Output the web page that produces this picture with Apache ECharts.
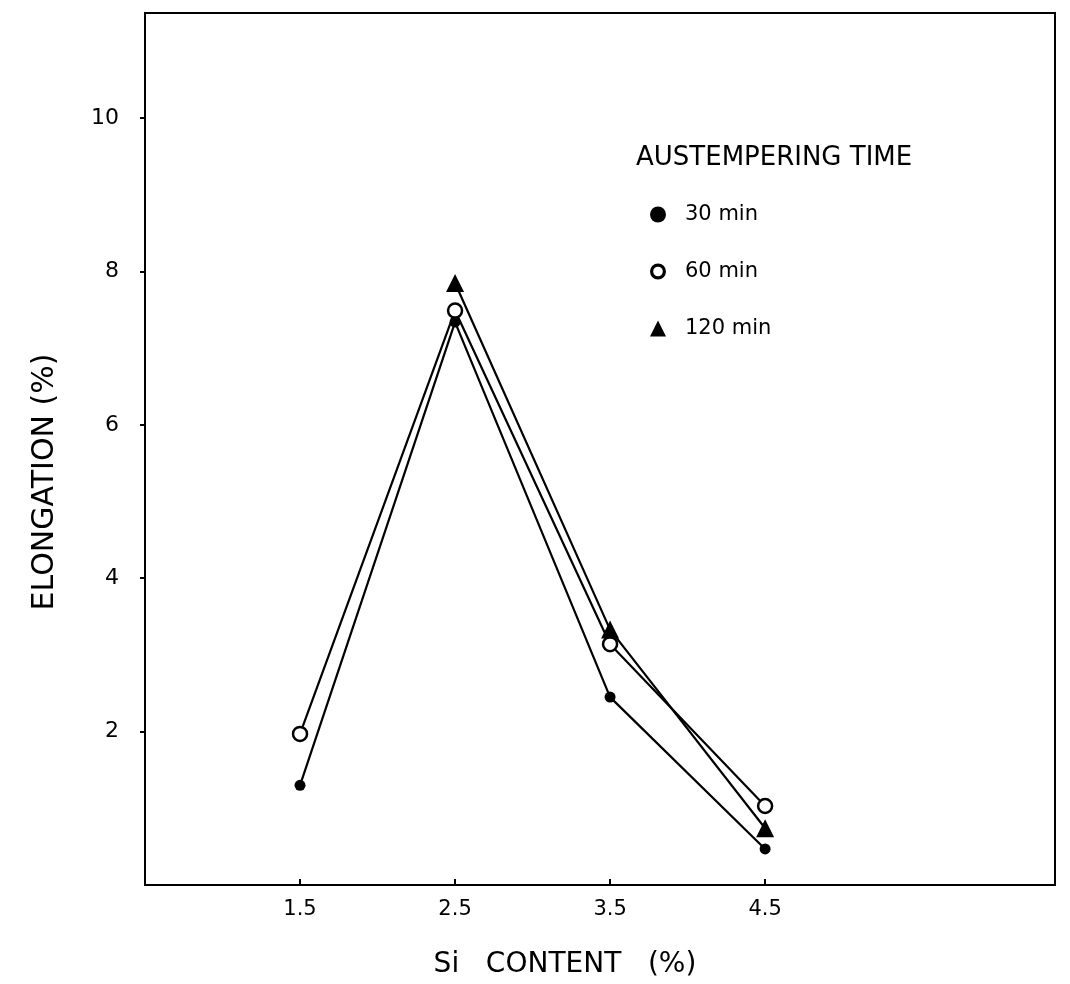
<!DOCTYPE html>
<html>
<head>
<meta charset="utf-8">
<script src="https://cdn.jsdelivr.net/npm/echarts@6/dist/echarts.min.js"></script>
<style>
html,body{margin:0;padding:0;background:#fff;}
#chart{width:1070px;height:984px;}
</style>
</head>
<body>
<div id="chart"></div>
<script>
const siContent = [1.5, 2.5, 3.5, 4.5];
const xTickLabels = [1.5, 2.5, 3.5, 4.5];
const yTickLabels = [2, 4, 6, 8, 10];
const elong30 = [1.30, 7.34, 2.45, 0.47];
const elong60 = [1.97, 7.49, 3.14, 1.03];
const elong120 = [null, 7.85, 3.33, 0.74];
const seriesNames = ['30 min', '60 min', '120 min'];
const legendTitle = 'AUSTEMPERING TIME';

const font = 'DejaVu Sans';
const ring = 'path://M50,0A50,50,0,1,1,49.99,0ZM50,20A30,30,0,1,0,50.01,20Z';
function pairs(vals){ return siContent.map((x,i)=> vals[i]==null ? null : [x, vals[i]]).filter(p=>p); }

const chart = echarts.init(document.getElementById('chart'));
chart.setOption({
  animation: false,
  backgroundColor: '#fff',
  textStyle: { fontFamily: font, color: '#000' },
  title: {
    text: legendTitle, left: 631, top: 140,
    textStyle: { fontFamily: font, fontSize: 26, fontWeight: 'normal', color: '#000' }
  },
  legend: {
    orient: 'vertical', left: 645, top: 199, itemGap: 36,
    itemWidth: 16, itemHeight: 16,
    textStyle: { fontFamily: font, fontSize: 21, color: '#000', padding: [0,0,0,14] },
    data: [
      { name: '30 min', icon: 'circle', itemStyle: { color: '#000' } },
      { name: '60 min', icon: ring, itemStyle: { color: '#000', borderWidth: 0 } },
      { name: '120 min', icon: 'triangle', itemStyle: { color: '#000' } }
    ]
  },
  grid: { left: 145, right: 15, top: 13, bottom: 98, show: true, borderColor: '#000', borderWidth: 2, backgroundColor: '#fff' },
  xAxis: {
    type: 'value', min: 0.5, max: 6.37, interval: 1,
    name: 'Si   CONTENT   (%)', nameLocation: 'middle', nameGap: 66,
    nameTextStyle: { fontFamily: font, fontSize: 28, color: '#000', padding: [0, 70, 0, 0] },
    axisLine: { show: true, lineStyle: { color: '#000', width: 2 } },
    axisTick: { show: true, inside: true, length: 6, customValues: xTickLabels, lineStyle: { color: '#000', width: 2 } },
    axisLabel: { customValues: xTickLabels, fontFamily: font, fontSize: 21, color: '#000', margin: 14, formatter: v => String(v) },
    splitLine: { show: false }
  },
  yAxis: {
    type: 'value', min: 0, max: 11.37, interval: 2,
    name: 'ELONGATION (%)', nameLocation: 'middle', nameGap: 85, nameRotate: 90,
    nameTextStyle: { fontFamily: font, fontSize: 30, color: '#000', padding: [0, 66, 0, 0] },
    axisLine: { show: true, lineStyle: { color: '#000', width: 2 } },
    axisTick: { show: true, length: 5, customValues: yTickLabels, lineStyle: { color: '#000', width: 2 } },
    axisLabel: { customValues: yTickLabels, fontFamily: font, fontSize: 22, color: '#000', margin: 26 },
    splitLine: { show: false }
  },
  series: [
    { name: seriesNames[0], type: 'line', data: pairs(elong30), symbol: 'circle', symbolSize: 11,
      lineStyle: { color: '#000', width: 2.2 }, itemStyle: { color: '#000' } },
    { name: seriesNames[1], type: 'line', data: pairs(elong60), symbol: 'circle', symbolSize: 14,
      lineStyle: { color: '#000', width: 2.2 }, itemStyle: { color: '#fff', borderColor: '#000', borderWidth: 2.5 }, z: 3 },
    { name: seriesNames[2], type: 'line', data: pairs(elong120), symbol: 'triangle', symbolSize: 18,
      lineStyle: { color: '#000', width: 2.2 }, itemStyle: { color: '#000' } }
  ]
});
</script>
</body>
</html>
